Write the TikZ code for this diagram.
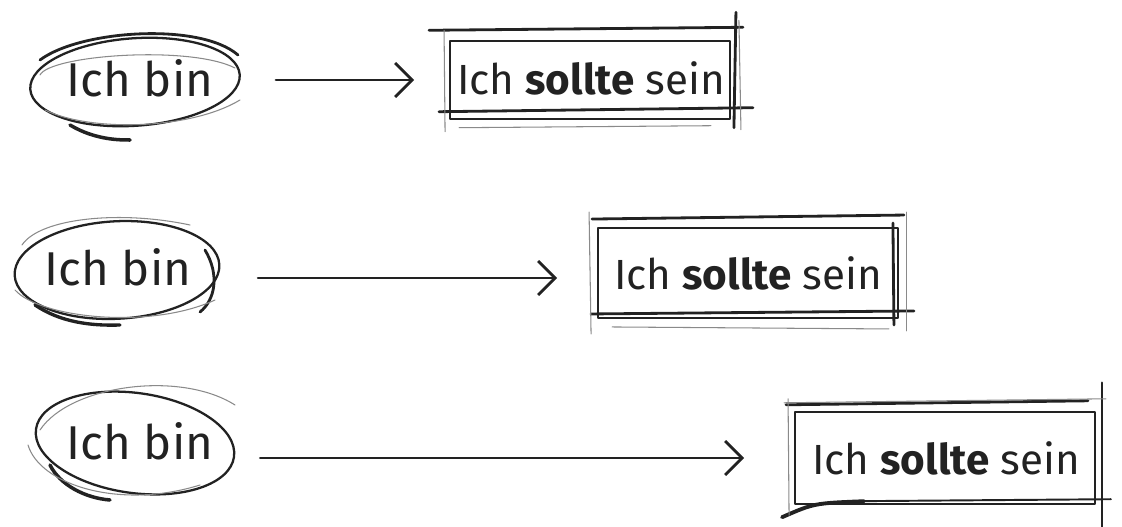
\documentclass[tikz,border=0pt]{standalone}
\usepackage{fontspec}
\setmainfont{Fira Sans}
\usetikzlibrary{shapes.geometric,arrows.meta}
\definecolor{ink}{HTML}{222222}
\definecolor{faint}{HTML}{8A8A8A}
\tikzset{
  ink/.style={draw=ink, line cap=round, line join=round},
  oval/.style={ellipse, ink, line width=1.3pt, inner sep=0pt},
  boxed/.style={rectangle, ink, line width=1.1pt, inner sep=0pt},
  stroke/.style={ink, line width=1.6pt},
  thin/.style={draw=faint, line width=0.6pt, line cap=round},
  flow/.style={ink, line width=1.4pt, -{Straight Barb[length=3.4mm,width=6.8mm,line width=1.6pt]}},
  bin/.style={font=\fontsize{27}{27}\selectfont, text=ink},
  soll/.style={font=\fontsize{24}{24}\selectfont, text=ink}
}
\begin{document}
\begin{tikzpicture}[x=0.02cm,y=-0.02cm]
\useasboundingbox (0,0) rectangle (1122,527);
% ---------- row 1
\node[oval, minimum width=4.2cm, minimum height=1.75cm, rotate=4] (e1) at (135,82) {};
\node[bin] (t1) at (140,78) {Ich bin};
\draw[stroke] (238,55) .. controls (200,22) and (80,30) .. (40,60);
\draw[thin] (40,75) .. controls (50,55) and (190,45) .. (235,68);
\draw[stroke, line width=2pt] (70,125) .. controls (95,140) and (120,140) .. (130,140);
\draw[thin] (45,110) .. controls (90,132) and (190,130) .. (240,100);
\node[boxed, minimum width=5.6cm, minimum height=1.55cm] (s1) at (590,80) {};
\node[soll] (u1) at (591,78) {Ich \textbf{sollte} sein};
\draw[stroke] ([shift={(-20,-10)}]s1.north west) -- ([shift={(12,-13)}]s1.north east);
\draw[stroke] ([shift={(-10,-8)}]s1.south west) -- ([shift={(22,-12)}]s1.south east);
\draw[stroke] ([shift={(5,-28)}]s1.north east) -- ([shift={(3,8)}]s1.south east);
\draw[thin] ([shift={(-5,-10)}]s1.north west) -- ([shift={(-4,12)}]s1.south west);
\draw[thin] ([shift={(8,-20)}]s1.north east) -- ([shift={(10,10)}]s1.south east);
\draw[thin] ([shift={(10,8)}]s1.south west) -- ([shift={(-20,6)}]s1.south east);
\draw[flow, shorten <=0.7cm, shorten >=0.7cm] (e1.east |- s1) -- (s1.west);
% ---------- row 2
\node[oval, minimum width=4.1cm, minimum height=1.95cm, rotate=3] (e2) at (117,270) {};
\node[bin] (t2) at (118,267) {Ich bin};
\draw[thin] (22,245) .. controls (40,218) and (120,210) .. (190,225);
\draw[stroke, line width=1.9pt] (35,305) .. controls (60,322) and (90,326) .. (120,325);
\draw[stroke] (205,250) .. controls (220,275) and (215,300) .. (200,312);
\draw[thin] (15,290) .. controls (40,318) and (150,330) .. (215,300);
\node[boxed, minimum width=6.0cm, minimum height=1.8cm] (s2) at (748,273) {};
\node[soll] (u2) at (748,273) {Ich \textbf{sollte} sein};
\draw[stroke] ([shift={(-5,-8)}]s2.north west) -- ([shift={(5,-12)}]s2.north east);
\draw[stroke] ([shift={(-6,-5)}]s2.south west) -- ([shift={(15,-8)}]s2.south east);
\draw[stroke] ([shift={(-6,-4)}]s2.north east) -- ([shift={(-5,6)}]s2.south east);
\draw[thin] ([shift={(-8,-15)}]s2.north west) -- ([shift={(-6,15)}]s2.south west);
\draw[thin] ([shift={(8,-15)}]s2.north east) -- ([shift={(8,12)}]s2.south east);
\draw[thin] ([shift={(15,8)}]s2.south west) -- ([shift={(-10,10)}]s2.south east);
\draw[flow, shorten <=0.75cm, shorten >=0.8cm] (e2.east |- 0,278) -- (s2.west |- 0,278);
% ---------- row 3
\node[oval, minimum width=4.0cm, minimum height=2.0cm, rotate=-8] (e3) at (135,443) {};
\node[bin] (t3) at (140,441) {Ich bin};
\draw[thin] (40,430) .. controls (70,385) and (180,370) .. (235,405);
\draw[stroke, line width=2pt] (50,465) .. controls (60,485) and (85,498) .. (110,500);
\draw[thin] (28,445) .. controls (40,485) and (120,510) .. (200,485);
\node[boxed, minimum width=6.0cm, minimum height=1.85cm] (s3) at (945,458) {};
\node[soll] (u3) at (946,458) {Ich \textbf{sollte} sein};
\draw[stroke] ([shift={(-8,-6)}]s3.north west) -- ([shift={(-8,-10)}]s3.north east);
\draw[stroke, line width=2.2pt] ([shift={(-12,12)}]s3.south west) .. controls ([shift={(20,-2)}]s3.south west) .. ([shift={(70,-4)}]s3.south west);
\draw[stroke, line width=1.1pt] ([shift={(60,-4)}]s3.south west) -- ([shift={(15,-6)}]s3.south east);
\draw[stroke] ([shift={(6,-28)}]s3.north east) -- ([shift={(6,22)}]s3.south east);
\draw[thin] ([shift={(-6,-12)}]s3.north west) -- ([shift={(-5,10)}]s3.south west);
\draw[thin] ([shift={(-10,-8)}]s3.north west) -- ([shift={(10,-12)}]s3.north east);
\draw[flow, shorten <=0.5cm, shorten >=1.0cm] (e3.east |- s3) -- (s3.west);
\end{tikzpicture}
\end{document}
